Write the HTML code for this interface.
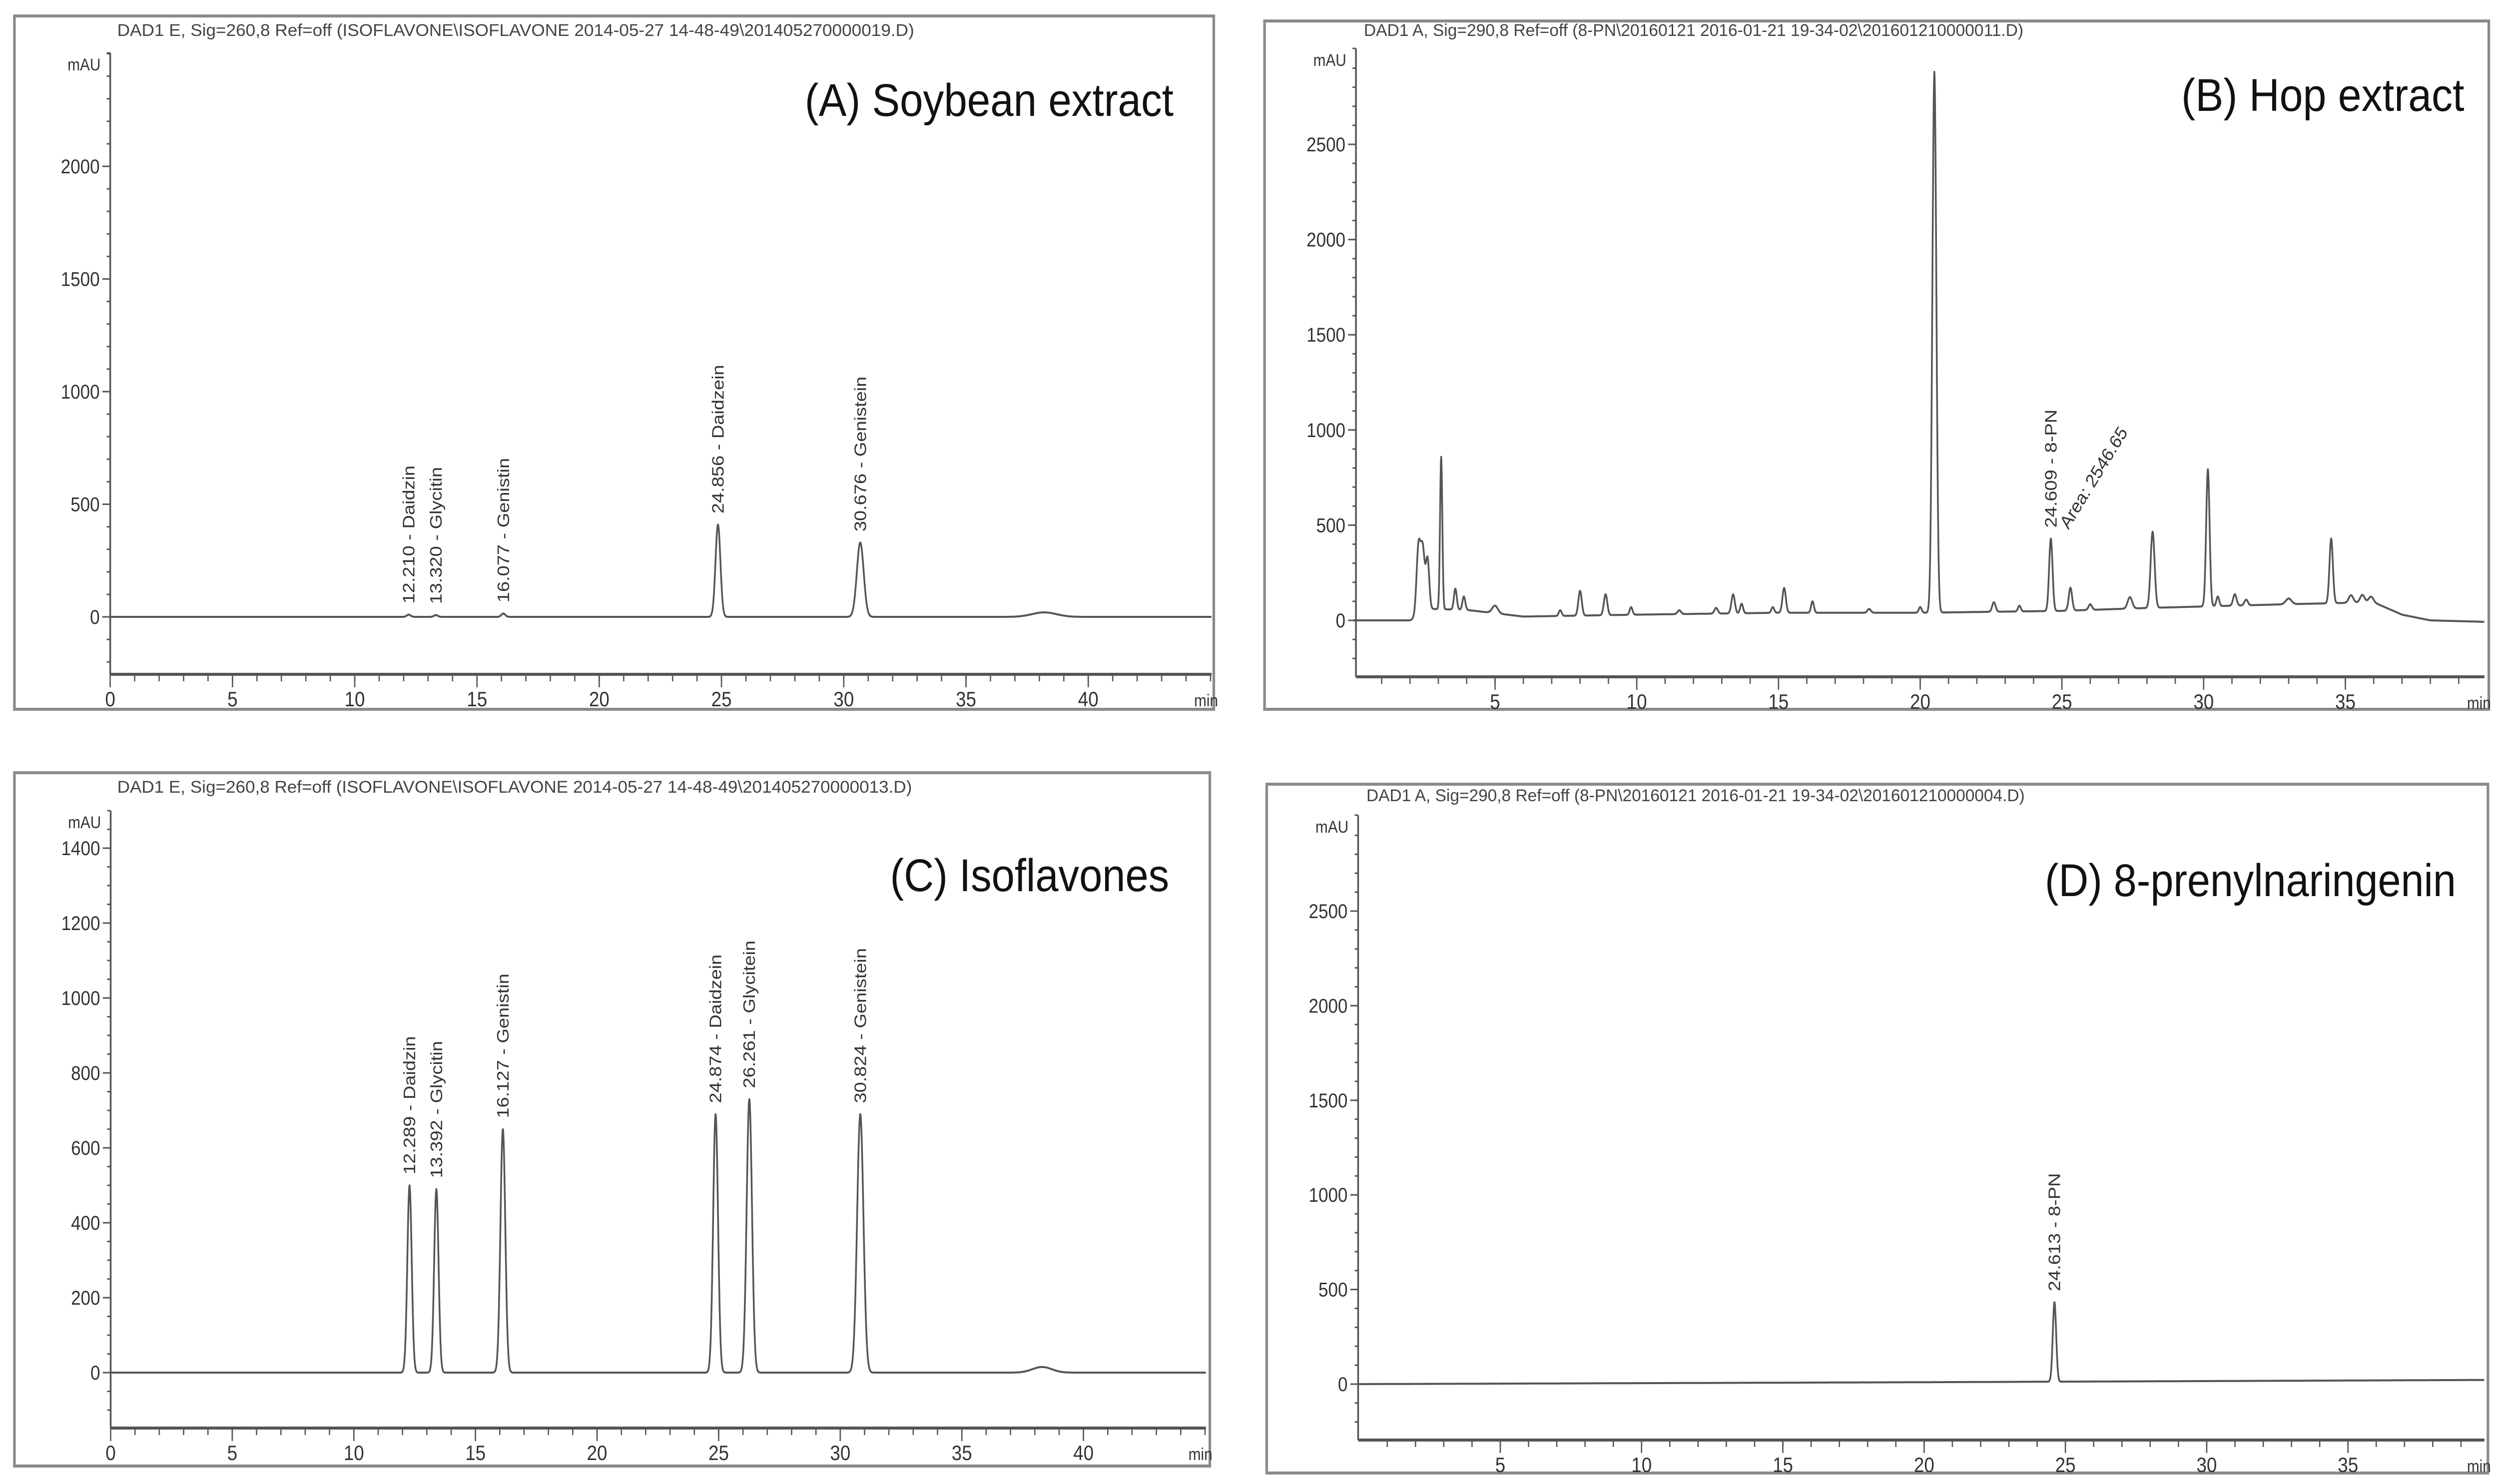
<!DOCTYPE html>
<html><head><meta charset="utf-8">
<style>
html,body{margin:0;padding:0;background:#fff;overflow:hidden;width:100%;height:100%;}
svg{display:block;position:absolute;left:0;top:0;width:100vw;height:100vh;}
text{font-family:"Liberation Sans",Arial,sans-serif;}
</style></head>
<body>
<svg id="fig" xmlns="http://www.w3.org/2000/svg" viewBox="0 0 5711 2971" preserveAspectRatio="none"></svg>
<script>
// ---------- DATA ----------
// Panel A: Soybean extract
const aPeakRT = [12.21, 13.32, 16.077, 24.856, 30.676, 38.2];
const aPeakH  = [10, 8, 15, 410, 330, 20];
const aPeakW  = [0.08, 0.08, 0.08, 0.10, 0.14, 0.5];
const aLabels = ["12.210 -  Daidzin", "13.320 -  Glycitin", "16.077 -  Genistin", "24.856 -  Daidzein", "30.676 -  Genistein"];
const aBaseT = [0, 45];
const aBaseV = [0, 0];
const aYMajor = [0, 500, 1000, 1500, 2000];
const aXMajor = [0, 5, 10, 15, 20, 25, 30, 35, 40];

// Panel B: Hop extract
const bPeakRT = [2.3, 2.45, 2.62, 3.1, 3.6, 3.9, 5.0, 7.3, 8.0, 8.9, 9.8, 11.5, 12.8, 13.4, 13.7, 14.8, 15.2, 16.2, 18.2, 20.0, 20.5, 22.6, 23.5, 24.609, 25.3, 26.0, 27.4, 28.2, 30.15, 30.5, 31.1, 31.5, 33.0, 34.5, 35.2, 35.6, 35.9];
const bPeakH  = [360, 330, 270, 800, 110, 70, 40, 30, 130, 110, 40, 20, 30, 100, 50, 30, 130, 60, 20, 30, 2840, 50, 30, 380, 120, 30, 60, 400, 720, 50, 60, 30, 30, 340, 40, 40, 30];
const bPeakW  = [0.07, 0.07, 0.06, 0.04, 0.05, 0.05, 0.1, 0.05, 0.06, 0.06, 0.05, 0.06, 0.06, 0.06, 0.05, 0.05, 0.06, 0.05, 0.06, 0.05, 0.07, 0.06, 0.05, 0.06, 0.06, 0.06, 0.08, 0.07, 0.06, 0.05, 0.06, 0.06, 0.1, 0.06, 0.08, 0.08, 0.08];
const bLabels = ["24.609 -  8-PN"];
const bArea = "Area: 2546.65";
const bBaseT = [0, 2.0, 2.8, 4.0, 6.0, 10.0, 15.0, 20.0, 25.0, 28.0, 33.0, 36.0, 37.0, 38.0, 40.0];
const bBaseV = [0, 0, 60, 55, 20, 30, 40, 40, 50, 65, 85, 95, 30, 0, -8];
const bYMajor = [0, 500, 1000, 1500, 2000, 2500];
const bXMajor = [5, 10, 15, 20, 25, 30, 35];

// Panel C: Isoflavones standard
const cPeakRT = [12.289, 13.392, 16.127, 24.874, 26.261, 30.824, 38.3];
const cPeakH  = [500, 490, 650, 690, 730, 690, 15];
const cPeakW  = [0.09, 0.09, 0.10, 0.10, 0.11, 0.13, 0.4];
const cLabels = ["12.289 -  Daidzin", "13.392 -  Glycitin", "16.127 -  Genistin", "24.874 -  Daidzein", "26.261 -  Glycitein", "30.824 -  Genistein"];
const cBaseT = [0, 45];
const cBaseV = [0, 0];
const cYMajor = [0, 200, 400, 600, 800, 1000, 1200, 1400];
const cXMajor = [0, 5, 10, 15, 20, 25, 30, 35, 40];

// Panel D: 8-prenylnaringenin standard
const dPeakRT = [24.613];
const dPeakH  = [420];
const dPeakW  = [0.06];
const dLabels = ["24.613 -  8-PN"];
const dBaseT = [0, 20, 40];
const dBaseV = [0, 10, 22];
const dYMajor = [0, 500, 1000, 1500, 2000, 2500];
const dXMajor = [5, 10, 15, 20, 25, 30, 35];

// ---------- DRAW ----------
const NS = "http://www.w3.org/2000/svg";
const svg = document.getElementById("fig");
function mk(tag, attrs, parent){
  const e = document.createElementNS(NS, tag);
  for (const k in attrs) e.setAttribute(k, attrs[k]);
  (parent||svg).appendChild(e);
  return e;
}
function interp(ts, vs, t){
  if (t <= ts[0]) return vs[0];
  for (let i=1;i<ts.length;i++){
    if (t <= ts[i]) return vs[i-1] + (vs[i]-vs[i-1])*(t-ts[i-1])/(ts[i]-ts[i-1]);
  }
  return vs[vs.length-1];
}

const panels = [
 {id:"a", frame:[33,32,2775,1420], ax:252, x0:252, pxMin:55.9, y0:1235, pxU:0.451, top:106, bot:1350, right:2770,
  tmax:45, minorY:100, yMin:-200, yMax:2500, header:"DAD1 E, Sig=260,8 Ref=off (ISOFLAVONE\\ISOFLAVONE 2014-05-27 14-48-49\\201405270000019.D)",
  hx:268, hy:72, hw:1822, title:"(A) Soybean extract", tx:1840, ty:232, tw:843,
  rt:aPeakRT, h:aPeakH, w:aPeakW, labels:aLabels, bt:aBaseT, bv:aBaseV, ym:aYMajor, xm:aXMajor},
 {id:"b", frame:[2891,42,5690,1420], ax:3100, x0:3094, pxMin:64.8, y0:1242, pxU:0.3812, top:97, bot:1355, right:5680,
  tmax:39.9, minorY:100, yMin:-300, yMax:2900, header:"DAD1 A, Sig=290,8 Ref=off (8-PN\\20160121 2016-01-21 19-34-02\\201601210000011.D)",
  hx:3118, hy:72, hw:1508, title:"(B) Hop extract", tx:4987, ty:222, tw:647,
  rt:bPeakRT, h:bPeakH, w:bPeakW, labels:bLabels, labelIdx:[23], bt:bBaseT, bv:bBaseV, ym:bYMajor, xm:bXMajor, area:bArea},
 {id:"c", frame:[33,1547,2766,2935], ax:253, x0:253, pxMin:55.6, y0:2748, pxU:0.75, top:1623, bot:2859, right:2757,
  tmax:45, minorY:50, yMin:-150, yMax:1450, header:"DAD1 E, Sig=260,8 Ref=off (ISOFLAVONE\\ISOFLAVONE 2014-05-27 14-48-49\\201405270000013.D)",
  hx:268, hy:1587, hw:1817, title:"(C) Isoflavones", tx:2035, ty:1784, tw:638,
  rt:cPeakRT, h:cPeakH, w:cPeakW, labels:cLabels, bt:cBaseT, bv:cBaseV, ym:cYMajor, xm:cXMajor},
 {id:"d", frame:[2896,1570,5688,2949], ax:3105, x0:3107, pxMin:64.6, y0:2771, pxU:0.3788, top:1632, bot:2883, right:5680,
  tmax:39.9, minorY:100, yMin:-300, yMax:2900, header:"DAD1 A, Sig=290,8 Ref=off (8-PN\\20160121 2016-01-21 19-34-02\\201601210000004.D)",
  hx:3124, hy:1604, hw:1505, title:"(D) 8-prenylnaringenin", tx:4675, ty:1794, tw:940,
  rt:dPeakRT, h:dPeakH, w:dPeakW, labels:dLabels, bt:dBaseT, bv:dBaseV, ym:dYMajor, xm:dXMajor}
];

panels.forEach(p=>{
  const g = mk("g", {});
  
  
  const X = t => p.x0 + t*p.pxMin;
  const Y = v => p.y0 - v*p.pxU;
  const f = p.frame;
  const fr = mk("rect", {x:f[0], y:f[1], width:f[2]-f[0], height:f[3]-f[1], fill:"none", stroke:"#8a8a8a", "stroke-width":6}, g);
  
  
  const hd = mk("text", {x:p.hx, y:p.hy, "font-size":34, fill:"#444", textLength:p.hw, lengthAdjust:"spacingAndGlyphs"}, g);
  hd.textContent = p.header;
  
  
  const ti = mk("text", {x:p.tx, y:p.ty, "font-size":92, fill:"#111", textLength:p.tw, lengthAdjust:"spacingAndGlyphs"}, g);
  ti.textContent = p.title;
  
  
  const ya = mk("line", {x1:p.ax, y1:p.top, x2:p.ax, y2:p.bot, stroke:"#555", "stroke-width":4}, g);
  
  
  mk("line", {x1:p.ax-8, y1:p.top, x2:p.ax, y2:p.top, stroke:"#555", "stroke-width":3}, g);
  const xa = mk("line", {x1:p.ax, y1:p.bot, x2:p.right, y2:p.bot, stroke:"#555", "stroke-width":6}, g);
  
  
  const mau = mk("text", {x:p.ax-22, y:p.top+35, "font-size":34, fill:"#333", "text-anchor":"end"}, g);
  mau.textContent = "mAU";
  
  
  for (let v=p.yMin; v<=p.yMax; v+=p.minorY){
    const yy = Y(v);
    if (yy < p.top || yy > p.bot) continue;
    mk("line", {x1:p.ax-8, y1:yy, x2:p.ax, y2:yy, stroke:"#555", "stroke-width":3}, g);
  }
  p.ym.forEach(v=>{
    const yy = Y(v);
    mk("line", {x1:p.ax-18, y1:yy, x2:p.ax, y2:yy, stroke:"#555", "stroke-width":3}, g);
    const t = mk("text", {x:p.ax-24, y:yy+14, "font-size":40, fill:"#333", "text-anchor":"end"}, g);
    t.textContent = v;
    
    
  });
  for (let m=1; m<=Math.floor(p.tmax); m++){
    mk("line", {x1:X(m), y1:p.bot, x2:X(m), y2:p.bot+14, stroke:"#555", "stroke-width":3}, g);
  }
  p.xm.forEach(m=>{
    mk("line", {x1:X(m), y1:p.bot, x2:X(m), y2:p.bot+26, stroke:"#555", "stroke-width":3}, g);
    const t = mk("text", {x:X(m), y:p.bot+64, "font-size":42, fill:"#333", "text-anchor":"middle"}, g);
    t.textContent = m;
    
    
  });
  const mn = mk("text", {x:p.right-40, y:p.bot+64, "font-size":34, fill:"#333"}, g);
  mn.textContent = "min";
  
  
  let d = "";
  const tEnd = (p.right - p.x0)/p.pxMin;
  for (let t=0; t<=tEnd; t+=0.01){
    let v = interp(p.bt, p.bv, t);
    for (let i=0;i<p.rt.length;i++){
      const z = (t-p.rt[i])/p.w[i];
      if (Math.abs(z) < 6) v += p.h[i]*Math.exp(-0.5*z*z);
    }
    d += (d ? "L" : "M") + X(t).toFixed(1) + " " + Y(v).toFixed(1);
  }
  const tr = mk("path", {d:d, fill:"none", stroke:"#555", "stroke-width":4, "stroke-linejoin":"round"}, g);
  
  
  const idx = p.labelIdx || p.labels.map((_,i)=>i);
  idx.forEach((pi, k)=>{
    const xx = X(p.rt[pi]), yy = Y(p.h[pi] + interp(p.bt, p.bv, p.rt[pi])) - 22;
    const t = mk("text", {x:0, y:0, "font-size":38, fill:"#333", transform:`translate(${xx+13},${yy}) rotate(-90)`}, g);
    t.textContent = p.labels[k];
    
    
    if (p.area){
      const a = mk("text", {x:0, y:0, "font-size":38, fill:"#333", transform:`translate(${xx+40},${yy+5}) rotate(-55)`}, g);
      a.textContent = p.area;
      
      
    }
  });
});
</script>
</body></html>
